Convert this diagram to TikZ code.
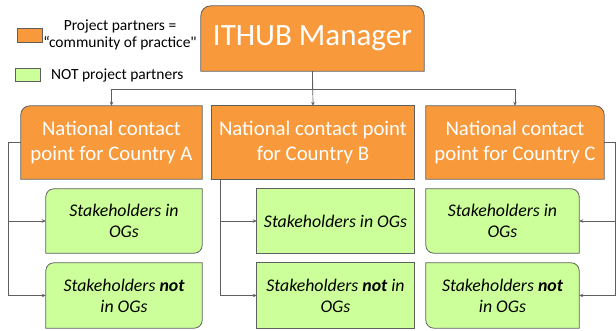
\documentclass[tikz,border=0pt]{standalone}
\usepackage{fontspec}
\setmainfont{Carlito}
\newfontfamily\rawquote{Carlito}
\usetikzlibrary{arrows.meta}
\definecolor{partner}{HTML}{F89A3B}
\definecolor{nonpartner}{HTML}{CCFF99}
\definecolor{edge}{HTML}{5F5F5F}
\pgfdeclarelayer{background}
\pgfsetlayers{background,main}
\tikzset{
  box/.style={inner sep=0pt, align=center},
  hubbox/.style={box, text=white, font=\fontsize{20.8}{25}\selectfont, minimum height=73pt},
  stakebox/.style={box, font=\fontsize{17.8}{21}\selectfont\itshape, minimum width=156pt},
  orangefill/.style={fill=partner, draw=edge, line width=0.8pt},
  greenfill/.style={fill=nonpartner, draw=edge, line width=0.8pt},
  link/.style={draw=edge, line width=0.7pt, -{Stealth[length=4pt,width=3.5pt]}},
}
\begin{document}
\begin{tikzpicture}[x=1pt,y=-1pt]
  \useasboundingbox (0,0) rectangle (616,331);

  \node[box, minimum width=25pt, minimum height=14pt, orangefill] (keyP) at (29.5,35) {};
  \node[box, minimum width=25pt, minimum height=13pt, greenfill] (keyN) at (27.5,74.5) {};
  \node[align=center, font=\fontsize{15.5}{16.5}\selectfont] (keyPtext) at (120,35) {Project partners =\\“community of practice{\rawquote"}};
  \node[anchor=west, inner sep=0pt, font=\fontsize{15.5}{16.5}\selectfont] (keyNtext) at (51,75) {NOT project partners};

  \node[box, minimum width=223pt, minimum height=65pt, text=white, font=\fontsize{31}{35}\selectfont] (mgr) at (312.5,38.5) {ITHUB Manager};

  \node[hubbox, minimum width=181pt] (ncpA) at (111.5,142.5) {National contact\\point for Country A};
  \node[hubbox, minimum width=202pt] (ncpB) at (313,142.5) {National contact point\\for Country B};
  \node[hubbox, minimum width=178pt] (ncpC) at (515,142.5) {National contact\\point for Country C};

  \node[stakebox, minimum height=64pt] (stA1) at (124,221) {Stakeholders in\\OGs};
  \node[stakebox, minimum height=65pt] (stA2) at (124,295.5) {Stakeholders \textbf{not}\\in OGs};
  \node[stakebox, minimum width=157pt, minimum height=64pt] (stB1) at (335.5,221) {Stakeholders in OGs};
  \node[stakebox, minimum width=157pt, minimum height=65pt] (stB2) at (335.5,295.5) {Stakeholders \textbf{not} in\\OGs};
  \node[stakebox, minimum width=153pt, minimum height=64pt] (stC1) at (502.5,221) {Stakeholders in\\OGs};
  \node[stakebox, minimum width=153pt, minimum height=65pt] (stC2) at (502.5,295.5) {Stakeholders \textbf{not}\\in OGs};

  \begin{pgfonlayer}{background}
    \path[orangefill] (mgr.south west) [rounded corners=10pt] -- (mgr.north west) -- (mgr.north east) [sharp corners] -- (mgr.south east) -- cycle;
    \path[orangefill] (ncpA.south west) [rounded corners=9pt] -- (ncpA.north west) [sharp corners] -- (ncpA.north east) -- (ncpA.south east) -- cycle;
    \path[orangefill] (ncpB.south west) rectangle (ncpB.north east);
    \path[orangefill] (ncpC.north west) [rounded corners=9pt] -- (ncpC.north east) [sharp corners] -- (ncpC.south east) -- (ncpC.south west) -- cycle;
    \foreach \st in {stA1,stA2} {
      \path[greenfill] (\st.south west) [rounded corners=8pt] -- (\st.north west) [sharp corners] -- (\st.north east) [rounded corners=8pt] -- (\st.south east) [sharp corners] -- cycle;
    }
    \foreach \st in {stB1,stB2} {
      \path[greenfill] (\st.south west) rectangle (\st.north east);
    }
    \foreach \st in {stC1,stC2} {
      \path[greenfill] (\st.north west) [rounded corners=8pt] -- (\st.north east) [sharp corners] -- (\st.south east) [rounded corners=8pt] -- (\st.south west) [sharp corners] -- cycle;
    }
  \end{pgfonlayer}

  \draw[link] (mgr.south) -- (ncpB.north);
  \draw[link] (mgr.south) -- ++(0,18) -| (ncpA.north);
  \draw[link] (mgr.south) -- ++(0,18) -| (ncpC.north);

  \draw[link] (ncpA.west) -- ++(-12,0) |- (stA1.west);
  \draw[link] (ncpA.west) -- ++(-12,0) |- (stA2.west);
  \draw[link] ([xshift=9pt]ncpB.south west) |- (stB1.west);
  \draw[link] ([xshift=9pt]ncpB.south west) |- (stB2.west);
  \draw[link] (ncpC.east) -- ++(11,0) |- (stC1.east);
  \draw[link] (ncpC.east) -- ++(11,0) |- (stC2.east);
\end{tikzpicture}
\end{document}
